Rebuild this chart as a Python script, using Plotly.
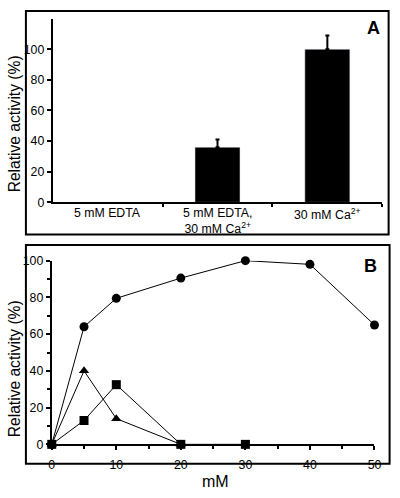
import plotly.graph_objects as go

# Panel A data
cats_a = ["5 mM EDTA", "5 mM EDTA,<br>30 mM Ca<sup>2+</sup>", "30 mM Ca<sup>2+</sup>"]
vals_a = [0, 36, 100]
err_idx = [1, 2]
err_a = [5, 9]

# Panel B data
x_circ = [0, 5, 10, 20, 30, 40, 50]
y_circ = [0, 64, 79.5, 90.5, 100, 98, 65]
x_tri = [0, 5, 10, 20]
y_tri = [0, 40, 14, 0]
x_sq = [0, 5, 10, 20, 30]
y_sq = [0, 13, 32.5, 0, 0]

W, H = 400, 498
def px(x): return x / W
def py(y): return 1 - y / H

FONT = "Liberation Sans, Arial, sans-serif"
fig = go.Figure()

fig.add_trace(go.Bar(x=[0, 1, 2], y=vals_a, marker_color="black", width=0.41,
                     xaxis="x", yaxis="y", showlegend=False))
fig.add_trace(go.Scatter(x=err_idx, y=[vals_a[i] for i in err_idx], mode="markers",
                         marker=dict(size=0.1, color="black", opacity=0),
                         error_y=dict(type="data", array=err_a, arrayminus=[0, 0], symmetric=False,
                                      color="black", thickness=2, width=2, visible=True),
                         xaxis="x", yaxis="y", showlegend=False, cliponaxis=False))

line = dict(color="black", width=1)
fig.add_trace(go.Scatter(x=x_circ, y=y_circ, mode="lines+markers", line=line,
                         marker=dict(symbol="circle", size=9, color="black"),
                         xaxis="x2", yaxis="y2", showlegend=False, cliponaxis=False))
fig.add_trace(go.Scatter(x=x_tri, y=y_tri, mode="lines+markers", line=line,
                         marker=dict(symbol="triangle-up", size=9, color="black"),
                         xaxis="x2", yaxis="y2", showlegend=False, cliponaxis=False))
fig.add_trace(go.Scatter(x=x_sq, y=y_sq, mode="lines+markers", line=line,
                         marker=dict(symbol="square", size=9, color="black"),
                         xaxis="x2", yaxis="y2", showlegend=False, cliponaxis=False))

tickfont = dict(family=FONT, size=12.3, color="black")
annotations = [
    dict(text="<b>A</b>", x=px(380), y=py(22), xref="paper", yref="paper", showarrow=False,
         font=dict(family=FONT, size=18, color="black"), xanchor="center", yanchor="middle"),
    dict(text="<b>B</b>", x=px(377), y=py(266), xref="paper", yref="paper", showarrow=False,
         font=dict(family=FONT, size=18, color="black"), xanchor="center", yanchor="middle"),
    dict(text="Relative activity (%)", x=px(12), y=py(120), xref="paper", yref="paper",
         showarrow=False, textangle=-90, font=dict(family=FONT, size=15.6, color="black"),
         xanchor="center", yanchor="middle"),
    dict(text="Relative activity (%)", x=px(12), y=py(372), xref="paper", yref="paper",
         showarrow=False, textangle=-90, font=dict(family=FONT, size=15.6, color="black"),
         xanchor="center", yanchor="middle"),
    dict(text="mM", x=px(218), y=py(488), xref="paper", yref="paper", showarrow=False,
         font=dict(family=FONT, size=16, color="black"), xanchor="center", yanchor="middle"),
]
for i, c in enumerate(cats_a):
    annotations.append(dict(text=c, x=i, xref="x", y=py(203), yref="paper", showarrow=False,
                            xanchor="center", yanchor="top", align="center",
                            font=tickfont))

fig.update_layout(
    width=W, height=H, margin=dict(l=0, r=0, t=0, b=0),
    paper_bgcolor="white", plot_bgcolor="white",
    font=dict(family=FONT, color="black"),
    xaxis=dict(domain=[px(51), px(389)], range=[-0.5, 2.5], tickmode="array",
               tickvals=[0.5, 1.5, 2.5], showticklabels=False,
               showline=True, linecolor="black", linewidth=2, ticks="outside",
               ticklen=3, tickwidth=1.5, tickcolor="black", showgrid=False,
               zeroline=False, anchor="y"),
    yaxis=dict(domain=[py(201), py(12.7)], range=[0, 119.5], tickvals=[0, 20, 40, 60, 80, 100],
               showline=True, linecolor="black", linewidth=2, ticks="outside", ticklen=4,
               tickwidth=1.5, tickcolor="black", showgrid=False, zeroline=False,
               tickfont=tickfont, anchor="x"),
    xaxis2=dict(domain=[px(50), px(381)], range=[0, 50], tickvals=[0, 10, 20, 30, 40, 50],
                showline=True, linecolor="black", linewidth=2, ticks="outside", ticklen=4,
                tickwidth=1.5, tickcolor="black", showgrid=False, zeroline=False,
                minor=dict(dtick=5, ticks="outside", ticklen=3, tickcolor="black"),
                ticklabelstandoff=4, tickfont=tickfont, anchor="y2"),
    yaxis2=dict(domain=[py(450), py(261)], range=[0, 100], tickvals=[0, 20, 40, 60, 80, 100],
                showline=True, linecolor="black", linewidth=2, ticks="outside", ticklen=4,
                tickwidth=1.5, tickcolor="black", showgrid=False, zeroline=False,
                minor=dict(dtick=10, ticks="outside", ticklen=3, tickcolor="black"),
                tickfont=tickfont, anchor="x2"),
    shapes=[
        dict(type="rect", xref="paper", yref="paper", x0=px(23.5), x1=px(395.5),
             y0=py(234), y1=py(4), line=dict(color="black", width=2)),
        dict(type="rect", xref="paper", yref="paper", x0=px(23.5), x1=px(396.5),
             y0=py(470), y1=py(245), line=dict(color="black", width=2)),
    ],
    annotations=annotations,
)

fig.write_html("out.html", config={"displayModeBar": False},
               post_script="document.body.style.margin='0px';document.body.style.overflow='hidden';")
